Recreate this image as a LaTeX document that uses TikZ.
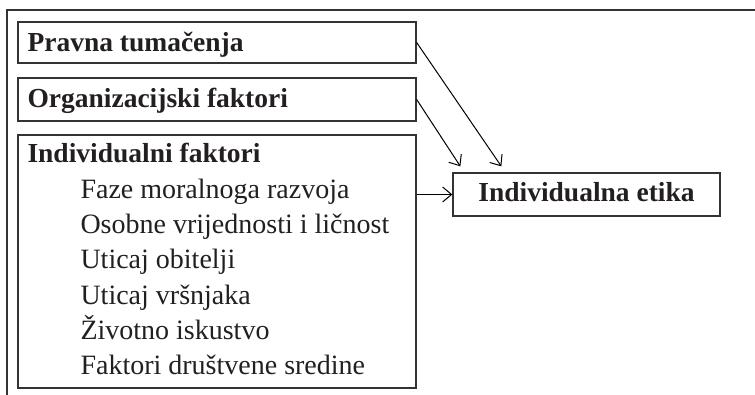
\documentclass[tikz,border=0pt]{standalone}
\usepackage{fontspec}
\setmainfont{Liberation Serif}
\usetikzlibrary{arrows.meta,positioning}

\definecolor{linegray}{HTML}{333333}
\definecolor{textblack}{HTML}{231F20}

\begin{document}
\begin{tikzpicture}[x=1pt,y=-1pt,->,>={Straight Barb[length=9pt,width=15pt]},line width=1pt,
        box/.style={draw=linegray,rectangle,inner sep=0pt,line width=1.3pt},
        head/.style={font=\fontsize{27.5}{33}\selectfont\bfseries,text=textblack,anchor=base west,inner sep=0pt},
        item/.style={font=\fontsize{28}{34}\selectfont,text=textblack,anchor=base west,inner sep=0pt}]
        \useasboundingbox (0,0) rectangle (755,395);

        % outer frame
        \draw[-,line width=2.6pt,linegray] (7,395) -- (7,10) -- (755,10);

        \node[box,minimum width=398pt,minimum height=41pt] (pravna) at (217,42.5) {};
        \node[box,minimum width=398pt,minimum height=43pt] (org) at (217,99.5) {};
        \node[box,minimum width=398pt,minimum height=253pt] (indiv) at (217,261.5) {};
        \node[box,minimum width=267pt,minimum height=43pt] (etika) at (586.5,194.5) {};

        \node[head] (pravnaT) at (27,52) {Pravna tumačenja};
        \node[head] (orgT) at (27,108) {Organizacijski faktori};
        \node[head] (indivT) at (27,163) {Individualni faktori};
        \node[head,anchor=base] (etikaT) at (586.5,202) {Individualna etika};
        \foreach \t [count=\i] in {Faze moralnoga razvoja,Osobne vrijednosti i ličnost,Uticaj obitelji,Uticaj vršnjaka,Životno iskustvo,Faktori društvene sredine}
            \node[item] (item\i) at (80,163+35.3*\i) {\t};

        \path[->] (pravna.east) edge ([xshift=49pt,yshift=6pt]etika.north west);
        \path[->] (org.east) edge ([xshift=8pt,yshift=6pt]etika.north west);
        \path[->] (indiv.east |- etika.west) edge (etika.west);
    \end{tikzpicture}
\end{document}
